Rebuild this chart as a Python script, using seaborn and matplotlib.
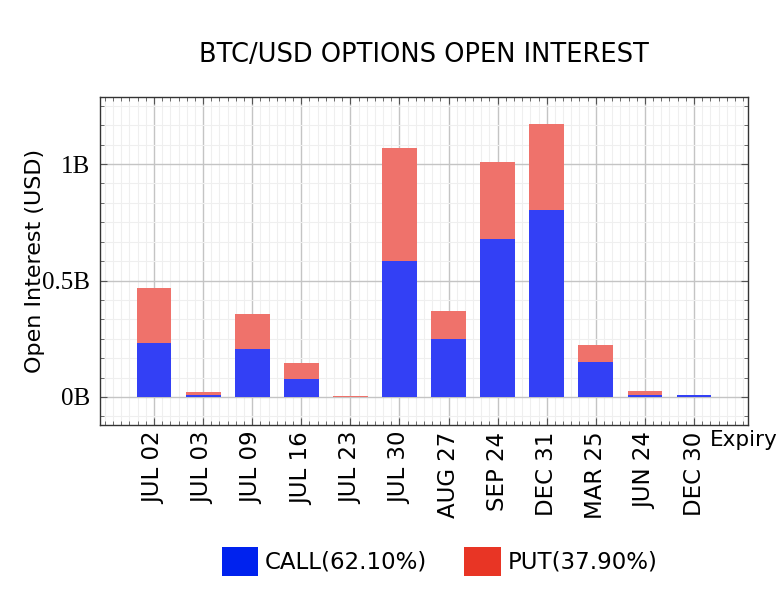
import matplotlib
matplotlib.use("Agg")
import matplotlib.pyplot as plt
import matplotlib.ticker as mticker
from matplotlib.patches import Patch
import numpy as np
import pandas as pd
import seaborn as sns

# datos (miles de millones USD)
expiry = ["JUL 02", "JUL 03", "JUL 09", "JUL 16", "JUL 23", "JUL 30",
          "AUG 27", "SEP 24", "DEC 31", "MAR 25", "JUN 24", "DEC 30"]
call_oi = [0.233, 0.010, 0.206, 0.077, 0.001, 0.585,
           0.250, 0.678, 0.803, 0.150, 0.009, 0.009]
put_oi = [0.235, 0.0115, 0.149, 0.068, 0.003, 0.485,
          0.118, 0.333, 0.367, 0.073, 0.015, 0.0005]
legend_labels = ["CALL(62.10%)", "PUT(37.90%)"]

sns.set_theme(style="white")
plt.rcParams['font.family'] = ['DejaVu Sans']
plt.rcParams['text.color'] = 'black'
plt.rcParams['axes.labelcolor'] = 'black'
plt.rcParams['xtick.labelcolor'] = 'black'
plt.rcParams['ytick.labelcolor'] = 'black'

df = pd.DataFrame({"Expiry": expiry, "Call": call_oi, "Put": put_oi})
df["Total"] = df["Call"] + df["Put"]

call_bar = "#3340f5"
put_bar = "#ef726b"

fig = plt.figure(figsize=(7.78, 6.14), dpi=100)
ax = fig.add_axes([0.1285, 0.308, 0.833, 0.534])

# apilado: total (put) detras, call encima
sns.barplot(data=df, x="Expiry", y="Total", color=put_bar, saturation=1,
            width=0.71, linewidth=0, ax=ax, zorder=3)
sns.barplot(data=df, x="Expiry", y="Call", color=call_bar, saturation=1,
            width=0.71, linewidth=0, ax=ax, zorder=4)

ax.set_xlim(-1.1, 12.1)
ax.set_ylim(-0.12, 1.288)

ax.yaxis.set_major_locator(mticker.MultipleLocator(0.5))
ax.yaxis.set_minor_locator(mticker.AutoMinorLocator(6))
ax.xaxis.set_minor_locator(mticker.AutoMinorLocator(6))
ax.yaxis.set_major_formatter(mticker.FuncFormatter(
    lambda v, p: "0B" if abs(v) < 1e-9 else (f"{v:g}B")))

ax.grid(which="major", color="#c4c4c4", linewidth=1.0, zorder=0)
ax.grid(which="minor", color="#efefef", linewidth=0.8, zorder=0)
ax.set_axisbelow(True)

ax.tick_params(which="both", direction="in", top=True, right=True,
               bottom=True, left=True, color="#555555")
ax.tick_params(which="major", length=5, width=0.8)
ax.tick_params(which="minor", length=3, width=0.6)
ax.tick_params(axis="x", labelrotation=90, labelsize=16.5, pad=5)
ax.tick_params(axis="y", labelsize=18, pad=7)
for lab in ax.get_yticklabels():
    lab.set_family("Liberation Serif")

for s in ax.spines.values():
    s.set_color("#333333")
    s.set_linewidth(1.0)

ax.set_xlabel("")
ax.set_ylabel("Open Interest (USD)", fontsize=16)
ax.yaxis.set_label_coords(-0.085, 0.5)
ax.set_title("BTC/USD OPTIONS OPEN INTEREST", fontsize=18.5, pad=25)

ax.text(11.33, -0.046, "Expiry", fontsize=15.5, ha="left", va="center",
        transform=ax.get_xaxis_transform(), clip_on=False)

handles = [Patch(facecolor="#0022ee", edgecolor="none"),
           Patch(facecolor="#e83525", edgecolor="none")]
fig.legend(handles, legend_labels, loc="lower center",
           bbox_to_anchor=(0.565, 0.028), ncol=2, frameon=False,
           fontsize=16.5, handlelength=1.6, handleheight=1.6,
           handletextpad=0.3, columnspacing=1.6)

fig.savefig("out.png", dpi=100)
